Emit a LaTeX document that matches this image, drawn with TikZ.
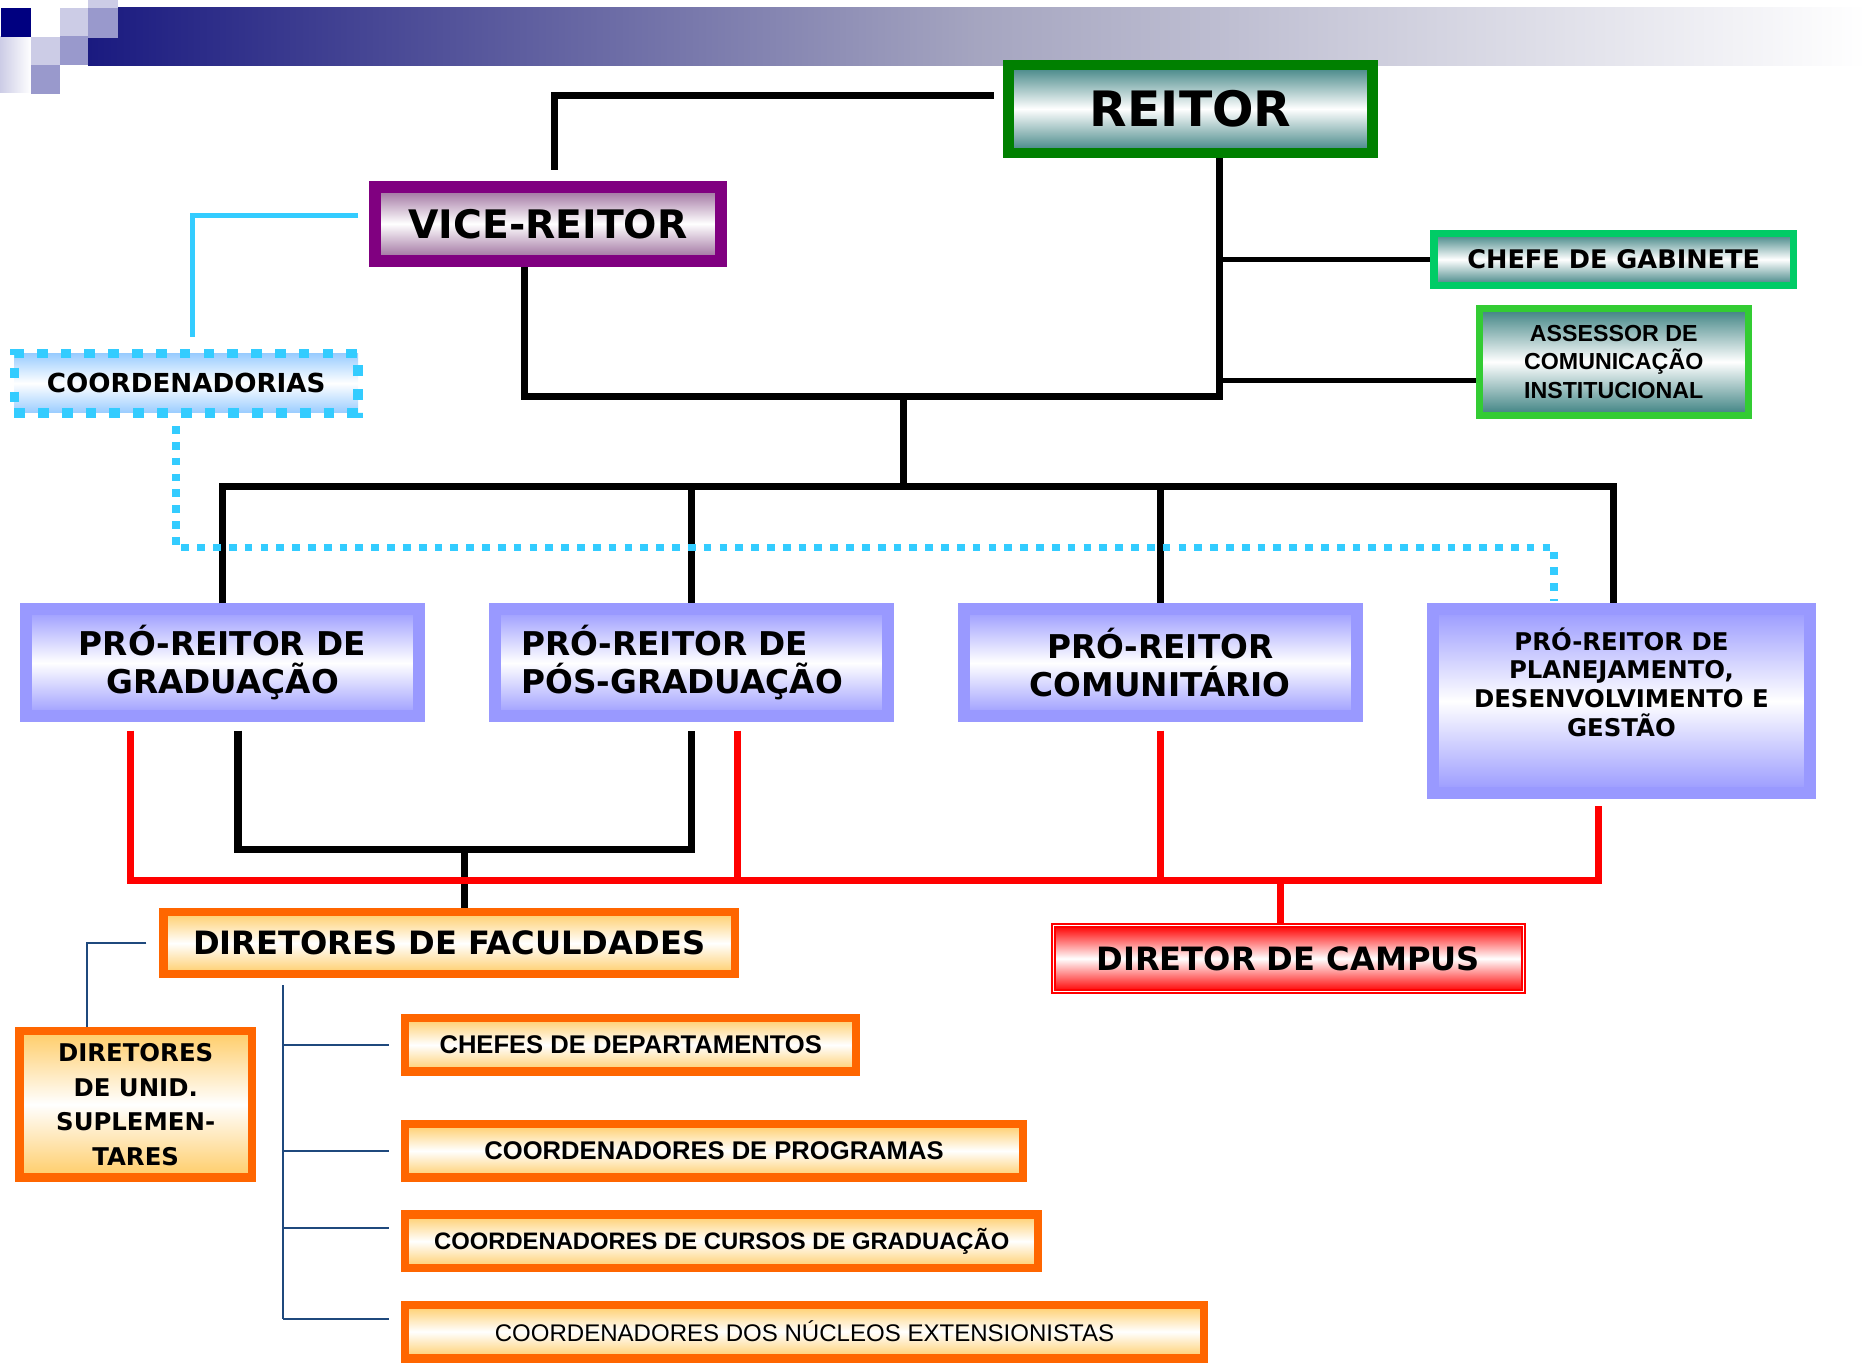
\documentclass[tikz,border=0pt]{standalone}
\usepackage{fontspec}
\setmainfont{DejaVu Sans}
\newfontfamily\arialfont{Liberation Sans}
\usepackage{tikz}
\usetikzlibrary{positioning}
\definecolor{reitgreen}{RGB}{0,128,0}
\definecolor{tealgrad}{RGB}{58,128,128}
\definecolor{vicepurple}{RGB}{128,0,128}
\definecolor{vicegrad}{RGB}{150,100,150}
\definecolor{coordcyan}{RGB}{51,204,255}
\definecolor{coordgrad}{RGB}{153,204,255}
\definecolor{gabgreen}{RGB}{0,204,102}
\definecolor{assgreen}{RGB}{51,204,51}
\definecolor{problue}{RGB}{153,153,255}
\definecolor{facorange}{RGB}{255,102,0}
\definecolor{facgrad}{RGB}{255,204,102}
\definecolor{campred}{RGB}{255,0,0}
\definecolor{navyline}{RGB}{31,73,125}
\definecolor{bannavy}{RGB}{26,26,128}
\definecolor{banmid}{RGB}{165,165,192}
\definecolor{sqnavy}{RGB}{0,0,128}
\definecolor{sqlight}{RGB}{204,204,230}
\definecolor{sqmid}{RGB}{153,153,204}
\tikzset{
reit/.style={rectangle,draw=reitgreen,line width=9pt,
minimum width=306pt,minimum height=74pt,inner sep=0pt,
top color=tealgrad,bottom color=tealgrad,middle color=white,
font=\bfseries\fontsize{41}{44}\selectfont},
vice/.style={rectangle,draw=vicepurple,line width=10pt,
minimum width=291pt,minimum height=62pt,inner sep=0pt,
top color=vicegrad,bottom color=vicegrad,middle color=white,
font=\bfseries\fontsize{33}{36}\selectfont},
coord/.style={rectangle,draw=coordcyan,line width=8pt,dash pattern=on 9pt off 11pt,
minimum width=289pt,minimum height=50pt,inner sep=0pt,
top color=coordgrad,bottom color=coordgrad,middle color=white,
font=\bfseries\fontsize{22}{24}\selectfont},
staff/.style={rectangle,line width=6pt,inner sep=0pt,align=center,
top color=tealgrad,bottom color=tealgrad,middle color=white},
pro/.style={rectangle,draw=problue,line width=10pt,
minimum width=330pt,minimum height=90pt,inner sep=0pt,align=center,
top color=problue,bottom color=problue,middle color=white,
font=\bfseries\fontsize{27.5}{32}\selectfont},
fac/.style={rectangle,draw=facorange,line width=7pt,inner sep=0pt,align=center,
top color=facgrad,bottom color=facgrad,middle color=white},
campus/.style={rectangle,draw=campred,double=white,line width=1.6pt,double distance=1pt,
minimum width=395pt,minimum height=55pt,inner sep=0pt,
top color=campred,bottom color=campred,middle color=white,
font=\bfseries\fontsize{27}{30}\selectfont},
conn/.style={line width=6pt,black},
thinconn/.style={line width=4pt,black},
cyanline/.style={line width=4.5pt,coordcyan},
cyandot/.style={line width=6.5pt,coordcyan,dash pattern=on 6.5pt off 6.8pt},
redconn/.style={line width=6pt,campred},
navyconn/.style={line width=1.6pt,navyline}
}
\begin{document}
\begin{tikzpicture}[x=1pt,y=-1pt]
\useasboundingbox (0,0) rectangle (1568,1151);

\shade[left color=bannavy,right color=white,middle color=banmid] (74,6.5) rectangle (1568,55);
\shade[left color=sqlight,right color=white] (0,31) rectangle (26,78);
\fill[sqnavy] (1,6.5) rectangle (26,31);
\fill[sqlight] (26,31) rectangle (50,55);
\fill[sqmid] (26,55) rectangle (50,79);
\fill[sqlight] (50,6.5) rectangle (74,30);
\fill[sqmid] (50,30) rectangle (74,55);
\fill[sqmid] (74,6.5) rectangle (99,32);
\fill[sqlight] (74,0) rectangle (99,6.5);

\node[reit] (R) at (1000.5,91.5) {REITOR};
\node[vice] (VR) at (460.5,188) {VICE-REITOR};
\node[coord] (CO) at (156.5,322) {COORDENADORIAS};
\node[staff,draw=gabgreen,minimum width=302pt,minimum height=44pt,
font=\bfseries\fontsize{21.5}{24}\selectfont] (CG) at (1356,218) {CHEFE DE GABINETE};
\node[staff,draw=assgreen,minimum width=226pt,minimum height=90pt,
font=\arialfont\bfseries\fontsize{19.5}{24}\selectfont] (ACI) at (1356,304) {ASSESSOR DE\\COMUNICAÇÃO\\INSTITUCIONAL};

\node[pro] (PRG) at (187,557) {PRÓ-REITOR DE\\GRADUAÇÃO};
\node[pro,right=54pt of PRG,text width=286pt,align=left] (PRPG) {PRÓ-REITOR DE\\PÓS-GRADUAÇÃO};
\node[pro,right=54pt of PRPG] (PRC) {PRÓ-REITOR\\COMUNITÁRIO};
\node[pro,below right=0pt and 54pt of PRC.north east,minimum width=317pt,minimum height=154pt,
font=\bfseries\fontsize{20.5}{24}\selectfont] (PRPDG) {PRÓ-REITOR DE\\PLANEJAMENTO,\\DESENVOLVIMENTO E\\GESTÃO\\[8pt]\mbox{}};

\node[fac,minimum width=480pt,minimum height=52pt,
font=\bfseries\fontsize{27}{30}\selectfont] (DF) at (377.5,792.5) {DIRETORES DE FACULDADES};
\node[campus] (DC) at (1082.5,805.5) {DIRETOR DE CAMPUS};
\node[fac,minimum width=195pt,minimum height=123pt,
font=\bfseries\fontsize{20.5}{29}\selectfont] (DU) at (114,928) {DIRETORES\\DE UNID.\\SUPLEMEN-\\TARES};

\node[fac,anchor=north west,minimum width=379pt,minimum height=45pt,
font=\arialfont\bfseries\fontsize{21.5}{24}\selectfont] (CD) at (337,852) {CHEFES DE DEPARTAMENTOS};
\node[fac,below right=37pt and 0pt of CD.south west,minimum width=519pt,minimum height=45pt,
font=\arialfont\bfseries\fontsize{21.5}{24}\selectfont] (CP) {COORDENADORES DE PROGRAMAS};
\node[fac,below right=24pt and 0pt of CP.south west,minimum width=532pt,minimum height=45pt,
font=\arialfont\bfseries\fontsize{20}{24}\selectfont] (CC) {COORDENADORES DE CURSOS DE GRADUAÇÃO};
\node[fac,below right=24pt and 0pt of CC.south west,minimum width=671pt,minimum height=45pt,
font=\arialfont\fontsize{20.2}{24}\selectfont] (CN) {COORDENADORES DOS NÚCLEOS EXTENSIONISTAS};

\coordinate (jTop) at (1025,333);
\coordinate (jMid) at (759,333);
\coordinate (jBus) at (759,409);
\coordinate (facJ) at (390,714);
\coordinate (redR) at (1343,740);
\coordinate (dotL) at (148,460);
\coordinate (navyT) at (238,828);

\draw[conn] ([shift={(-8pt,11.5pt)}]R.west) -| ([shift={(5.5pt,9pt)}]VR.north);
\draw[conn] ([xshift=-19.5pt]VR.south) |- (jTop) -- (R.south -| jTop);
\draw[thinconn] (CG.west -| jTop) -- (CG.west);
\draw[thinconn] ([yshift=-16pt]ACI.west -| jTop) -- ([yshift=-16pt]ACI.west);
\draw[conn] (jMid) -- (jBus);
\draw[conn] (PRG.north) |- ([xshift=-6.5pt]PRPDG.north |- jBus) -- ([xshift=-6.5pt]PRPDG.north);
\draw[conn] (PRPG.north |- jBus) -- (PRPG.north);
\draw[conn] (PRC.north |- jBus) -- (PRC.north);

\draw[conn] ([shift={(13pt,-7pt)}]PRG.south) |- (PRPG.south |- facJ) -- ([yshift=-7pt]PRPG.south);
\draw[conn] (facJ) -- (facJ |- DF.north);

\draw[redconn] ([shift={(-77pt,-7pt)}]PRG.south) |- (redR) -- ([yshift=-6pt]PRPDG.south -| redR);
\draw[redconn] ([shift={(39pt,-7pt)}]PRPG.south) -- ([xshift=39pt]PRPG.south |- redR);
\draw[redconn] ([yshift=-7pt]PRC.south) -- (PRC.south |- redR);
\draw[redconn] ([xshift=-6.5pt]DC.north |- redR) -- ([xshift=-6.5pt]DC.north);

\draw[cyanline] ([shift={(-9pt,7pt)}]VR.west) -| ([shift={(5.5pt,10pt)}]CO.north);
\draw[cyandot] ([shift={(-8.5pt,-7pt)}]CO.south) -- (dotL) -| ([shift={(-56.5pt,2pt)}]PRPDG.north);

\draw[navyconn] ([xshift=-11pt]DF.west) -| ([xshift=-41pt]DU.north);
\draw[navyconn] (navyT) -- ([yshift=11pt]CN.west -| navyT);
\draw[navyconn] (CD.west -| navyT) -- ([xshift=-10pt]CD.west);
\draw[navyconn] (CP.west -| navyT) -- ([xshift=-10pt]CP.west);
\draw[navyconn] ([yshift=11pt]CC.west -| navyT) -- ([shift={(-10pt,11pt)}]CC.west);
\draw[navyconn] ([yshift=11pt]CN.west -| navyT) -- ([shift={(-10pt,11pt)}]CN.west);
%\draw[conn] (PRG.north |- jBus) -- (PRG.north);
\end{tikzpicture}
\end{document}
